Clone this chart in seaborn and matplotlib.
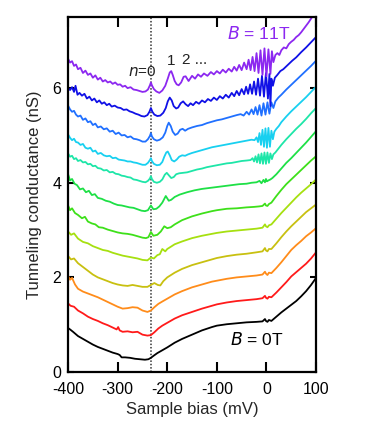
import matplotlib
matplotlib.use("Agg")
import matplotlib.pyplot as plt
import seaborn as sns
import pandas as pd

# ---------------- data (mV, nS) ----------------
FIELDS = ["0T", "1T", "2T", "3T", "4T", "5T", "6T", "7T", "8T", "9T", "10T", "11T"]
COLORS = ["#000000", "#ff1a1a", "#ff8c1a", "#c8c010", "#a6e010", "#3ee01a",
          "#1ee046", "#1ee6a8", "#18d0f0", "#2070ff", "#1010e6", "#8c28f0"]

B0 = [(-400, 0.93), (-396, 0.90), (-390, 0.85), (-380, 0.76), (-370, 0.70), (-360, 0.64),
      (-350, 0.58), (-340, 0.53), (-330, 0.49), (-320, 0.45), (-310, 0.41), (-300, 0.38),
      (-296, 0.36), (-292, 0.31), (-285, 0.31), (-275, 0.30), (-265, 0.28), (-255, 0.27),
      (-245, 0.26), (-238, 0.27), (-233, 0.30), (-228, 0.34), (-220, 0.40), (-210, 0.46),
      (-200, 0.52), (-185, 0.62), (-170, 0.70), (-150, 0.79), (-130, 0.88), (-110, 0.95),
      (-100, 0.98), (-80, 1.01), (-60, 1.03), (-40, 1.05), (-20, 1.06), (-8, 1.07),
      (-3, 1.12), (-1, 1.08), (2, 1.06), (5, 1.10), (10, 1.08), (20, 1.17), (30, 1.26),
      (40, 1.34), (50, 1.42), (60, 1.50), (70, 1.60), (80, 1.71), (90, 1.84), (100, 1.99)]

B1 = [(-400, 1.45), (-395, 1.40), (-388, 1.38), (-380, 1.30), (-370, 1.24), (-360, 1.17),
      (-350, 1.12), (-340, 1.08), (-330, 1.03), (-320, 0.99), (-310, 0.94), (-302, 0.90),
      (-299, 0.95), (-296, 0.88), (-290, 0.85), (-280, 0.86), (-270, 0.84), (-260, 0.85),
      (-250, 0.79), (-240, 0.77), (-233, 0.78), (-226, 0.84), (-218, 0.92), (-210, 0.98),
      (-200, 1.04), (-185, 1.13), (-170, 1.20), (-150, 1.27), (-130, 1.34), (-110, 1.40),
      (-100, 1.43), (-80, 1.47), (-60, 1.50), (-40, 1.52), (-20, 1.54), (-8, 1.56),
      (-3, 1.61), (-1, 1.57), (2, 1.55), (5, 1.59), (10, 1.58), (20, 1.68), (30, 1.79),
      (40, 1.90), (50, 2.02), (60, 2.11), (70, 2.20), (80, 2.29), (90, 2.40), (100, 2.53)]

B2 = [(-400, 2.03), (-396, 1.95), (-392, 1.99), (-386, 1.85), (-380, 1.76), (-370, 1.70),
      (-360, 1.66), (-350, 1.62), (-340, 1.58), (-330, 1.53), (-320, 1.48), (-310, 1.43),
      (-300, 1.38), (-290, 1.34), (-280, 1.35), (-270, 1.37), (-260, 1.36), (-250, 1.30),
      (-240, 1.27), (-233, 1.30), (-226, 1.37), (-218, 1.44), (-210, 1.49), (-200, 1.55),
      (-185, 1.64), (-170, 1.71), (-150, 1.79), (-130, 1.85), (-110, 1.91), (-100, 1.93),
      (-80, 1.97), (-60, 2.00), (-40, 2.02), (-20, 2.04), (-8, 2.06), (-3, 2.12), (-1, 2.08),
      (2, 2.05), (5, 2.10), (10, 2.09), (20, 2.20), (30, 2.32), (40, 2.45), (50, 2.58),
      (60, 2.68), (70, 2.77), (80, 2.87), (90, 2.95), (100, 3.04)]

B3 = [(-400, 2.45), (-394, 2.38), (-388, 2.40), (-380, 2.30), (-370, 2.22), (-360, 2.14),
      (-350, 2.06), (-340, 2.00), (-330, 1.96), (-320, 1.92), (-310, 1.88), (-300, 1.85),
      (-290, 1.83), (-280, 1.82), (-270, 1.84), (-260, 1.82), (-250, 1.80), (-240, 1.80),
      (-233, 1.84), (-226, 1.88), (-219, 1.84), (-214, 1.83), (-208, 1.92), (-200, 2.00),
      (-185, 2.10), (-170, 2.18), (-150, 2.26), (-130, 2.32), (-110, 2.38), (-100, 2.41),
      (-80, 2.45), (-60, 2.48), (-40, 2.50), (-20, 2.53), (-8, 2.55), (-3, 2.62), (-1, 2.57),
      (2, 2.55), (5, 2.60), (10, 2.60), (20, 2.72), (30, 2.85), (40, 2.97), (50, 3.08),
      (60, 3.18), (70, 3.28), (80, 3.38), (90, 3.46), (100, 3.54)]

B4 = [(-400, 2.97), (-394, 2.90), (-388, 2.93), (-380, 2.82), (-370, 2.75), (-360, 2.72),
      (-350, 2.66), (-340, 2.62), (-330, 2.58), (-320, 2.56), (-310, 2.52), (-300, 2.49),
      (-290, 2.46), (-280, 2.44), (-270, 2.42), (-260, 2.40), (-250, 2.37), (-240, 2.36),
      (-233, 2.42), (-227, 2.40), (-220, 2.47), (-215, 2.49), (-210, 2.60), (-204, 2.55),
      (-200, 2.60), (-185, 2.70), (-170, 2.76), (-150, 2.83), (-130, 2.88), (-110, 2.92),
      (-100, 2.94), (-80, 2.97), (-60, 2.99), (-40, 3.01), (-20, 3.03), (-8, 3.05),
      (-3, 3.12), (-1, 3.08), (2, 3.06), (5, 3.10), (10, 3.12), (20, 3.24), (30, 3.36),
      (40, 3.47), (50, 3.58), (60, 3.69), (70, 3.79), (80, 3.88), (90, 3.97), (100, 4.07)]

B5 = [(-400, 3.52), (-396, 3.42), (-392, 3.46), (-386, 3.36), (-380, 3.32), (-372, 3.25),
      (-366, 3.28), (-360, 3.18), (-352, 3.14), (-345, 3.12), (-338, 3.06), (-330, 3.05),
      (-320, 3.01), (-310, 2.98), (-300, 2.95), (-290, 2.93), (-280, 2.92), (-270, 2.90),
      (-260, 2.87), (-250, 2.84), (-243, 2.83), (-238, 2.85), (-233, 2.96), (-228, 2.88),
      (-220, 2.90), (-213, 2.97), (-206, 3.08), (-200, 3.04), (-193, 3.06), (-185, 3.12),
      (-170, 3.21), (-150, 3.29), (-130, 3.35), (-110, 3.40), (-100, 3.42), (-80, 3.45),
      (-60, 3.46), (-40, 3.48), (-25, 3.49), (-15, 3.50), (-8, 3.51), (-3, 3.56), (-1, 3.52),
      (2, 3.51), (5, 3.55), (10, 3.58), (20, 3.72), (30, 3.85), (40, 3.97), (50, 4.07),
      (60, 4.17), (70, 4.27), (80, 4.37), (90, 4.47), (100, 4.56)]

B6 = [(-400, 4.18), (-396, 4.05), (-392, 4.08), (-387, 3.98), (-382, 3.95), (-376, 3.86),
      (-370, 3.88), (-364, 3.80), (-358, 3.83), (-352, 3.74), (-346, 3.76), (-340, 3.68),
      (-332, 3.66), (-324, 3.62), (-316, 3.60), (-308, 3.56), (-300, 3.53), (-292, 3.52),
      (-284, 3.50), (-276, 3.48), (-268, 3.47), (-260, 3.44), (-252, 3.41), (-245, 3.40),
      (-239, 3.42), (-233, 3.52), (-228, 3.44), (-222, 3.45), (-216, 3.50), (-210, 3.58),
      (-203, 3.72), (-197, 3.62), (-192, 3.64), (-185, 3.70), (-175, 3.75), (-160, 3.80),
      (-145, 3.84), (-130, 3.87), (-115, 3.89), (-100, 3.91), (-85, 3.93), (-70, 3.95),
      (-55, 3.97), (-40, 3.98), (-30, 4.00), (-20, 4.01), (-14, 4.04), (-10, 3.99),
      (-6, 4.06), (-3, 4.01), (-1, 4.08), (1, 4.03), (4, 4.05), (8, 4.07), (12, 4.10),
      (20, 4.18), (30, 4.30), (40, 4.42), (50, 4.52), (60, 4.63), (70, 4.74), (80, 4.85),
      (90, 4.97), (100, 5.09)]

B7 = [(-400, 4.62), (-396, 4.55), (-392, 4.57), (-388, 4.50), (-384, 4.52), (-380, 4.46),
      (-375, 4.48), (-370, 4.43), (-365, 4.44), (-360, 4.39), (-355, 4.40), (-350, 4.35),
      (-345, 4.36), (-340, 4.31), (-334, 4.30), (-328, 4.26), (-322, 4.27), (-316, 4.22),
      (-310, 4.23), (-304, 4.19), (-298, 4.18), (-292, 4.15), (-286, 4.14), (-280, 4.12),
      (-274, 4.11), (-268, 4.07), (-262, 4.06), (-256, 4.04), (-250, 4.02), (-244, 4.01),
      (-239, 4.04), (-235, 4.09), (-233, 4.14), (-231, 4.08), (-227, 4.02), (-221, 4.00),
      (-215, 4.02), (-210, 4.07), (-205, 4.17), (-201, 4.21), (-197, 4.16), (-192, 4.10),
      (-187, 4.12), (-182, 4.18), (-176, 4.20), (-168, 4.21), (-160, 4.22), (-150, 4.25),
      (-140, 4.28), (-130, 4.30), (-120, 4.33), (-110, 4.35), (-100, 4.37), (-90, 4.39),
      (-80, 4.41), (-70, 4.42), (-60, 4.44), (-50, 4.46), (-40, 4.47), (-32, 4.48),
      (-28, 4.52), (-25, 4.45), (-22, 4.56), (-19, 4.43), (-16, 4.60), (-13, 4.41),
      (-10, 4.62), (-7, 4.40), (-4, 4.64), (-1, 4.40), (2, 4.64), (5, 4.42), (8, 4.62),
      (11, 4.50), (14, 4.60), (18, 4.64), (24, 4.72), (30, 4.80), (40, 4.92), (50, 5.03),
      (60, 5.14), (70, 5.24), (80, 5.35), (90, 5.47), (100, 5.58)]

B8 = [(-400, 5.02), (-396, 4.95), (-392, 4.90), (-388, 4.93), (-384, 4.86), (-380, 4.85),
      (-375, 4.80), (-370, 4.82), (-365, 4.74), (-360, 4.72), (-355, 4.74), (-350, 4.66),
      (-345, 4.68), (-340, 4.61), (-334, 4.63), (-328, 4.58), (-322, 4.56), (-316, 4.57),
      (-310, 4.52), (-304, 4.53), (-298, 4.49), (-292, 4.48), (-286, 4.47), (-280, 4.45),
      (-274, 4.45), (-268, 4.43), (-262, 4.42), (-256, 4.40), (-250, 4.38), (-244, 4.38),
      (-239, 4.42), (-235, 4.48), (-233, 4.52), (-231, 4.46), (-227, 4.40), (-221, 4.37),
      (-215, 4.38), (-210, 4.44), (-206, 4.55), (-202, 4.64), (-199, 4.66), (-195, 4.58),
      (-191, 4.48), (-186, 4.45), (-181, 4.49), (-176, 4.55), (-170, 4.58), (-164, 4.57),
      (-158, 4.60), (-150, 4.63), (-140, 4.66), (-130, 4.69), (-120, 4.72), (-110, 4.75),
      (-100, 4.77), (-90, 4.79), (-80, 4.81), (-70, 4.83), (-60, 4.85), (-50, 4.87),
      (-40, 4.89), (-30, 4.91), (-24, 4.90), (-20, 4.96), (-17, 4.86), (-14, 5.05),
      (-11, 4.80), (-8, 5.12), (-5, 4.76), (-2, 5.15), (1, 4.74), (4, 5.16), (7, 4.76),
      (10, 5.10), (13, 4.92), (16, 5.08), (20, 5.14), (25, 5.20), (30, 5.28), (40, 5.40),
      (50, 5.51), (60, 5.61), (70, 5.71), (80, 5.81), (90, 5.92), (100, 6.03)]

B9 = [(-400, 5.63), (-396, 5.55), (-392, 5.50), (-388, 5.52), (-384, 5.44), (-380, 5.40),
      (-375, 5.42), (-370, 5.33), (-365, 5.36), (-360, 5.28), (-355, 5.30), (-350, 5.22),
      (-345, 5.25), (-340, 5.17), (-334, 5.19), (-328, 5.13), (-322, 5.15), (-316, 5.08),
      (-310, 5.10), (-304, 5.03), (-298, 5.06), (-292, 5.00), (-286, 5.01), (-280, 4.96),
      (-274, 4.98), (-268, 4.93), (-262, 4.92), (-256, 4.90), (-250, 4.87), (-244, 4.87),
      (-239, 4.92), (-235, 4.99), (-233, 5.05), (-231, 4.98), (-227, 4.92), (-221, 4.89),
      (-215, 4.91), (-209, 4.96), (-204, 5.06), (-200, 5.20), (-197, 5.27), (-193, 5.20),
      (-189, 5.08), (-184, 5.01), (-179, 5.04), (-174, 5.12), (-169, 5.14), (-164, 5.10),
      (-158, 5.14), (-150, 5.17), (-140, 5.20), (-130, 5.22), (-120, 5.26), (-110, 5.29),
      (-100, 5.32), (-90, 5.34), (-80, 5.37), (-70, 5.40), (-60, 5.43), (-52, 5.45),
      (-46, 5.42), (-40, 5.50), (-35, 5.44), (-30, 5.55), (-26, 5.45), (-22, 5.60),
      (-18, 5.44), (-14, 5.64), (-10, 5.42), (-6, 5.68), (-2, 5.44), (2, 5.70), (6, 5.46),
      (10, 5.70), (14, 5.58), (18, 5.72), (24, 5.80), (30, 5.86), (40, 5.97), (50, 6.07),
      (60, 6.17), (70, 6.27), (80, 6.37), (90, 6.47), (100, 6.58)]

B10 = [(-400, 6.00), (-396, 5.96), (-392, 6.02), (-388, 5.92), (-385, 6.05), (-381, 5.86),
       (-377, 5.90), (-372, 5.84), (-367, 5.88), (-362, 5.78), (-357, 5.82), (-352, 5.74),
       (-347, 5.78), (-342, 5.70), (-337, 5.74), (-332, 5.67), (-327, 5.70), (-322, 5.64),
       (-317, 5.67), (-312, 5.61), (-306, 5.63), (-300, 5.59), (-294, 5.58), (-288, 5.54),
       (-282, 5.55), (-276, 5.51), (-270, 5.49), (-264, 5.46), (-258, 5.44), (-252, 5.41),
       (-246, 5.40), (-240, 5.43), (-236, 5.50), (-233, 5.58), (-230, 5.50), (-226, 5.44),
       (-220, 5.41), (-214, 5.42), (-208, 5.48), (-203, 5.58), (-199, 5.72), (-195, 5.80),
       (-191, 5.74), (-187, 5.62), (-182, 5.57), (-178, 5.59), (-173, 5.68), (-168, 5.72),
       (-163, 5.66), (-158, 5.62), (-153, 5.68), (-148, 5.64), (-142, 5.71), (-136, 5.67),
       (-130, 5.74), (-124, 5.70), (-118, 5.77), (-112, 5.73), (-106, 5.80), (-100, 5.75),
       (-94, 5.83), (-88, 5.78), (-82, 5.86), (-76, 5.80), (-70, 5.90), (-65, 5.83),
       (-60, 5.94), (-55, 5.85), (-50, 5.98), (-45, 5.87), (-41, 6.03), (-37, 5.88),
       (-33, 6.08), (-29, 5.88), (-25, 6.14), (-21, 5.86), (-17, 6.20), (-13, 5.84),
       (-9, 6.26), (-5, 5.82), (-1, 6.32), (3, 5.78), (6, 6.30), (8, 5.62), (10, 6.20),
       (13, 6.05), (17, 6.22), (22, 6.28), (28, 6.36), (34, 6.40), (40, 6.46), (46, 6.52),
       (52, 6.58), (60, 6.65), (70, 6.76), (80, 6.86), (90, 6.97), (100, 7.08)]

B11 = [(-400, 6.62), (-396, 6.54), (-392, 6.57), (-388, 6.47), (-384, 6.50), (-380, 6.40),
       (-375, 6.43), (-370, 6.32), (-365, 6.37), (-360, 6.28), (-355, 6.31), (-350, 6.22),
       (-345, 6.27), (-340, 6.18), (-335, 6.22), (-330, 6.14), (-325, 6.17), (-320, 6.12),
       (-315, 6.14), (-310, 6.09), (-305, 6.12), (-300, 6.07), (-295, 6.08), (-290, 6.03),
       (-285, 6.05), (-280, 6.00), (-274, 6.02), (-268, 5.97), (-262, 5.96), (-256, 5.94),
       (-250, 5.92), (-244, 5.93), (-239, 5.97), (-235, 6.06), (-233, 6.12), (-231, 6.06),
       (-227, 5.98), (-222, 5.93), (-216, 5.90), (-210, 5.95), (-204, 6.05), (-199, 6.20),
       (-195, 6.33), (-192, 6.36), (-189, 6.28), (-185, 6.15), (-181, 6.08), (-177, 6.06),
       (-172, 6.12), (-167, 6.24), (-163, 6.25), (-157, 6.15), (-150, 6.26), (-144, 6.20),
       (-138, 6.29), (-132, 6.24), (-126, 6.31), (-119, 6.26), (-112, 6.34), (-106, 6.29),
       (-100, 6.36), (-94, 6.31), (-88, 6.39), (-82, 6.33), (-76, 6.41), (-70, 6.35),
       (-65, 6.45), (-60, 6.37), (-55, 6.49), (-50, 6.38), (-45, 6.54), (-40, 6.40),
       (-36, 6.60), (-32, 6.38), (-28, 6.66), (-24, 6.36), (-20, 6.74), (-16, 6.32),
       (-12, 6.80), (-8, 6.28), (-4, 6.84), (0, 6.25), (4, 6.82), (8, 6.30), (11, 6.78),
       (14, 6.55), (18, 6.70), (22, 6.74), (26, 6.70), (30, 6.80), (35, 6.86), (40, 6.84),
       (45, 6.93), (50, 6.98), (55, 7.02), (60, 7.08), (65, 7.12), (70, 7.18), (75, 7.25),
       (80, 7.32), (85, 7.39), (90, 7.47), (95, 7.55), (100, 7.62)]

CURVES = [B0, B1, B2, B3, B4, B5, B6, B7, B8, B9, B10, B11]
N0_BIAS = -233          # position of the n=0 Landau level (dotted line)
X_TICKS = [-400, -300, -200, -100, 0, 100]
Y_TICKS = [0, 2, 4, 6]

rows = []
for field, pts in zip(FIELDS, CURVES):
    for v, g in pts:
        rows.append({"bias": v, "G": g, "B": field})
df = pd.DataFrame(rows)

# ---------------- figure ----------------
sns.set_style("ticks")
plt.rcParams["font.family"] = ["Liberation Sans", "DejaVu Sans"]

fig = plt.figure(figsize=(3.66, 4.40), dpi=100)
ax = fig.add_axes([0.186, 0.1545, 0.6775, 0.8065])

ax.axvline(N0_BIAS, color="#333333", ls=(0, (1, 1.2)), lw=1.1, zorder=1)

sns.lineplot(data=df, x="bias", y="G", hue="B", hue_order=FIELDS,
             palette=dict(zip(FIELDS, COLORS)), estimator=None, sort=False,
             lw=1.3, legend=False, ax=ax, zorder=2)

ax.set_xlim(-400, 100)
ax.set_ylim(0, 7.5)
ax.set_xticks(X_TICKS)
ax.set_xticklabels([str(t) for t in X_TICKS])
ax.set_yticks(Y_TICKS)
ax.tick_params(axis="both", direction="in", top=True, right=True,
               labelsize=11.5, width=1.5, colors="black")
ax.tick_params(axis="x", length=7, pad=7)
ax.tick_params(axis="y", length=4, pad=5)
for s in ax.spines.values():
    s.set_linewidth(1.6)
    s.set_color("black")

ax.set_xlabel("Sample bias (mV)", fontsize=12, labelpad=4)
ax.set_ylabel("Tunneling conductance (nS)", fontsize=12, labelpad=7)

ax.text(-80, 7.15, "$\\it{B}$ = 11T", color=COLORS[-1], fontsize=12.5, va="center", ha="left")
ax.text(-74, 0.68, "$\\it{B}$ = 0T", color="black", fontsize=12.5, va="center", ha="left")
ax.text(-280, 6.34, "$\\it{n}$=0", color="#222222", fontsize=11, va="center", ha="left")
ax.text(-192, 6.58, "1", color="#222222", fontsize=11, va="center", ha="center")
ax.text(-171, 6.60, "2 ...", color="#222222", fontsize=11, va="center", ha="left")

fig.savefig("out.png", dpi=100)
